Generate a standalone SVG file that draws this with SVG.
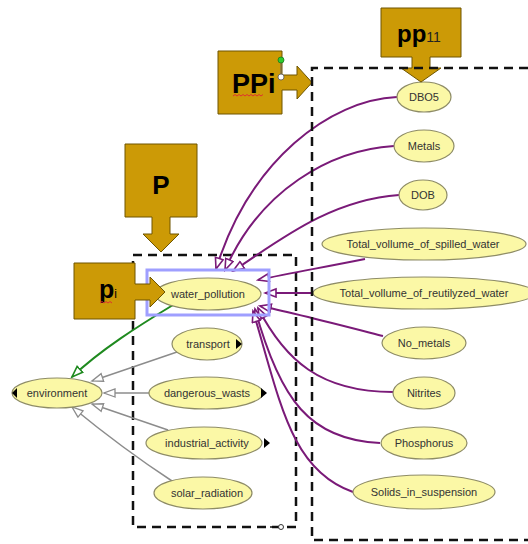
<svg xmlns="http://www.w3.org/2000/svg" width="528" height="544" viewBox="0 0 528 544">
<style>
.node{fill:#fbf8a6;stroke:#8e8c66;stroke-width:1.2}
.lbl{font-family:"Liberation Sans",Arial,sans-serif;font-size:11px;fill:#333;text-anchor:middle}
.call{fill:#cc9a06;stroke:#6e5500;stroke-width:1}
.big{font-family:"Liberation Sans",Arial,sans-serif;fill:#000;font-weight:bold}
.dash{fill:none;stroke:#111;stroke-width:2.5;stroke-dasharray:9 6}
.pur{fill:none;stroke:#7a1a78;stroke-width:2;marker-end:url(#ap)}
.gry{fill:none;stroke:#8c8c8c;stroke-width:1.5;marker-end:url(#ag)}
.grn{fill:none;stroke:#1f8a1f;stroke-width:2;marker-end:url(#agr)}
.tri{fill:#000}
.sq{fill:none;stroke:#e03030;stroke-width:1}
</style>
<defs>
<marker id="ap" markerUnits="userSpaceOnUse" markerWidth="14" markerHeight="12" refX="12" refY="5" orient="auto"><path d="M1,1 L12,5 L1,9 Z" fill="#fff" stroke="#7a1a78" stroke-width="1.6"/></marker>
<marker id="ag" markerUnits="userSpaceOnUse" markerWidth="14" markerHeight="12" refX="12" refY="5" orient="auto"><path d="M1,1 L12,5 L1,9 Z" fill="#fff" stroke="#8c8c8c" stroke-width="1.3"/></marker>
<marker id="agr" markerUnits="userSpaceOnUse" markerWidth="14" markerHeight="12" refX="12" refY="5" orient="auto"><path d="M1,1 L12,5 L1,9 Z" fill="#fff" stroke="#1f8a1f" stroke-width="1.6"/></marker>
</defs>
<rect width="528" height="544" fill="#fff"/>

<g id="inner-frame">
<rect class="dash" x="133" y="255" width="163" height="272"/>
<line x1="270" y1="527" x2="281" y2="527" stroke="#111" stroke-width="1.5"/>
<circle cx="281" cy="527" r="2.5" fill="#fff" stroke="#333" stroke-width="1"/>
</g>

<g id="connectors">
<path class="pur" d="M397,97 C330,100 250,160 216,269"/>
<path class="pur" d="M394,146 C330,150 260,190 225,270"/>
<path class="pur" d="M399,195 C330,200 280,240 233,271"/>
<path class="pur" d="M365,259 C320,268 290,273 258,280"/>
<path class="pur" d="M313,293 L265,293"/>
<path class="pur" d="M383,336 C340,325 290,312 260,306"/>
<path class="pur" d="M393,392 C320,392 285,360 258,308"/>
<path class="pur" d="M380,443 C310,440 280,400 255,309"/>
<path class="pur" d="M353,492 C290,470 280,400 253,311"/>
<path class="gry" d="M177,352 L92,381"/>
<path class="gry" d="M149,393 L104,393"/>
<path class="gry" d="M168,430 L92,404"/>
<path class="gry" d="M172,481 C140,460 100,430 72,407"/>
<path class="grn" d="M173,305 C140,325 100,350 72,377"/>
</g>

<g id="n-water_pollution">
<rect x="147" y="270" width="122" height="45" fill="none" stroke="#9f9fff" stroke-width="3"/>
<ellipse class="node" cx="208" cy="294" rx="53" ry="16"/>
<text class="lbl" x="208" y="298">water_pollution</text>
</g>
<g id="n-environment">
<ellipse class="node" cx="57" cy="393" rx="45" ry="15"/>
<path class="tri" d="M17,388 L12,393 L17,398 Z"/>
<text class="lbl" x="57" y="397">environment</text>
</g>
<g id="n-transport">
<ellipse class="node" cx="207" cy="344" rx="35" ry="16"/>
<path class="tri" d="M236,339 L242,344 L236,349 Z"/>
<text class="lbl" x="208" y="348">transport</text>
</g>
<g id="n-dangerous_wasts">
<ellipse class="node" cx="206" cy="393" rx="57" ry="16"/>
<path class="tri" d="M261,388 L267,393 L261,398 Z"/>
<text class="lbl" x="207" y="397">dangerous_wasts</text>
</g>
<g id="n-industrial_activity">
<ellipse class="node" cx="204" cy="443" rx="58" ry="16"/>
<path class="tri" d="M264,438 L270,443 L264,448 Z"/>
<text class="lbl" x="207" y="447">industrial_activity</text>
</g>
<g id="n-solar_radiation">
<ellipse class="node" cx="203" cy="493" rx="49" ry="16"/>
<text class="lbl" x="207" y="497">solar_radiation</text>
</g>

<g id="n-DBO5"><ellipse class="node" cx="424" cy="97" rx="27" ry="15"/><text class="lbl" x="424" y="101">DBO5</text></g>
<g id="n-Metals"><ellipse class="node" cx="424" cy="146" rx="30" ry="16"/><text class="lbl" x="424" y="150">Metals</text></g>
<g id="n-DOB"><ellipse class="node" cx="423" cy="195" rx="24" ry="15"/><text class="lbl" x="423" y="199">DOB</text></g>
<g id="n-spilled"><ellipse class="node" cx="424" cy="244" rx="102" ry="16"/><text class="lbl" x="423" y="248">Total_vollume_of_spilled_water</text></g>
<g id="n-reutilyzed"><ellipse class="node" cx="424" cy="293" rx="111" ry="16"/><text class="lbl" x="424" y="297">Total_vollume_of_reutilyzed_water</text></g>
<g id="n-No_metals"><ellipse class="node" cx="424" cy="343" rx="42" ry="16"/><text class="lbl" x="424" y="347">No_metals</text></g>
<g id="n-Nitrites"><ellipse class="node" cx="424" cy="393" rx="31" ry="16"/><text class="lbl" x="424" y="397">Nitrites</text></g>
<g id="n-Phosphorus"><ellipse class="node" cx="424" cy="443" rx="43" ry="16"/><text class="lbl" x="424" y="447">Phosphorus</text></g>
<g id="n-Solids"><ellipse class="node" cx="424" cy="492" rx="71" ry="17"/><text class="lbl" x="424" y="496">Solids_in_suspension</text></g>

<g id="c-P">
<path class="call" d="M125,144 H197 V217 H170 V234 H179 L161,252 L143,234 H152 V217 H125 Z"/>
<text class="big" x="161" y="194" font-size="26" text-anchor="middle">P</text>
</g>
<g id="c-pi">
<path class="call" d="M74,263 H135 V284 H150 V277 L165,292 L150,307 V300 H135 V319 H74 Z"/>
<text class="big" x="99" y="298" font-size="25">p<tspan font-size="12" font-weight="normal">i</tspan></text>
<path class="sq" d="M100,303 l2,-1.5 l2,1.5 l2,-1.5 l2,1.5 l2,-1.5 l2,1.5"/>
</g>
<g id="c-PPi">
<path class="call" d="M218,51 H282 V75 H297 V66 L312,82.5 L297,99 V90 H282 V114 H218 Z"/>
<text class="big" x="232" y="93" font-size="27">PPi</text>
<path class="sq" d="M233,96 l2,-1.5 l2,1.5 l2,-1.5 l2,1.5 l2,-1.5 l2,1.5 l2,-1.5 l2,1.5 l2,-1.5 l2,1.5 l2,-1.5 l2,1.5 l2,-1.5 l2,1.5 l2,-1.5"/>
<line x1="281" y1="60" x2="281" y2="77" stroke="#666" stroke-width="1"/>
<circle cx="281" cy="60" r="3" fill="#2ecc2e" stroke="#1a7a1a" stroke-width="0.8"/>
<circle cx="281" cy="77" r="3" fill="#fff" stroke="#555" stroke-width="0.8"/>
</g>
<g id="c-pp11">
<path class="call" d="M381,8 H461 V57 H430 V68 H441 L421,82 L401,68 H412 V57 H381 Z"/>
<text x="397" y="42" font-family="Liberation Sans, Arial, sans-serif" font-size="24" font-weight="bold" fill="#000">pp<tspan font-size="14" font-weight="normal" fill="#222">11</tspan></text>
</g>

<g id="outer-frame">
<path class="dash" d="M528,68 H312 V540 H528"/>
</g>
</svg>
